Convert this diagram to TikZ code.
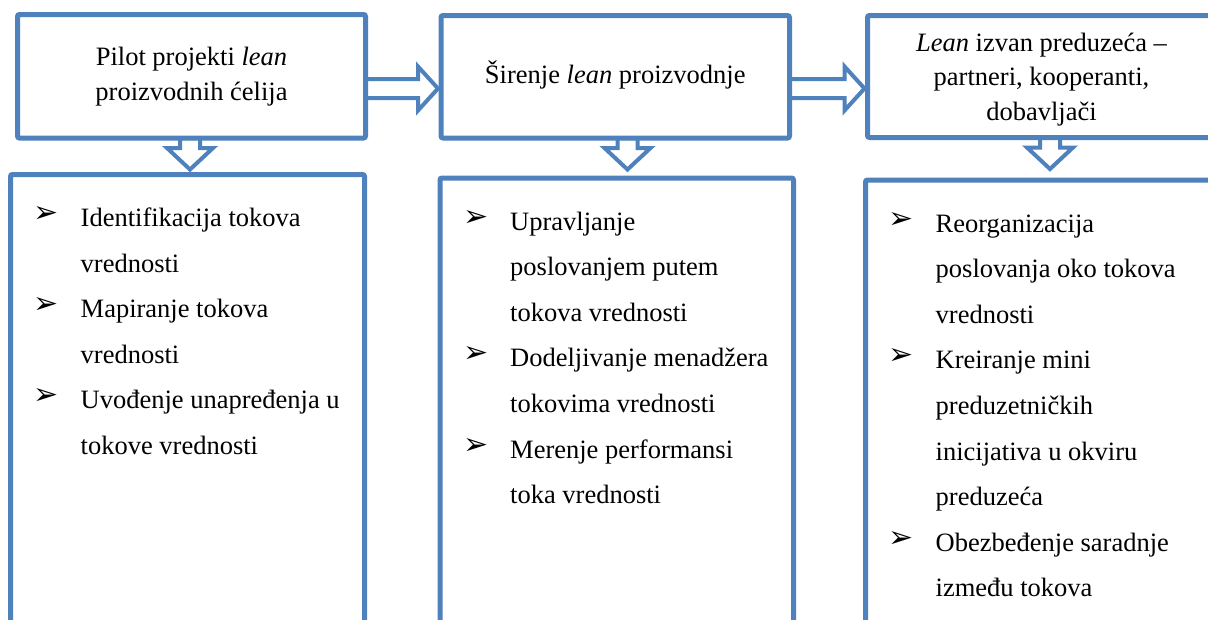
\documentclass[tikz,border=0pt]{standalone}
\usepackage{fontspec}
\setmainfont{Liberation Serif}
\newfontfamily\dingfont{DejaVu Sans}
\usetikzlibrary{calc,backgrounds}
\definecolor{cblue}{HTML}{4F81BD}

% block arrow, left to right: source node, target node, row y
\newcommand{\rblock}[3]{%
  \draw[blockarrow] ($(#1.east |- 0,#3)+(0,-9.5)$) -- ($(#2.west |- 0,#3)+(-23,-9.5)$)
    -- ++(0,-12.5) -- ($(#2.west |- 0,#3)+(-3,0)$) -- ($(#2.west |- 0,#3)+(-23,22)$)
    -- ++(0,-12.5) -- ($(#1.east |- 0,#3)+(0,9.5)$) -- cycle;}
% block arrow, downwards: upper node, column x
\newcommand{\dblock}[2]{%
  \draw[blockarrow] ($(#1.south -| #2,0)+(-10,0)$) -- ++(0,10) -- ++(-13,0)
    -- ($(#1.south -| #2,0)+(0,31.5)$) -- ($(#1.south -| #2,0)+(23,10)$)
    -- ++(-13,0) -- ($(#1.south -| #2,0)+(10,0)$) -- cycle;}

\begin{document}
\begin{tikzpicture}[
    x=1pt, y=-1pt,
    box/.style={draw=cblue, line width=5pt, fill=white, rounded corners=2pt,
                inner sep=0pt, outer sep=0pt},
    headtext/.style={anchor=base, inner sep=0pt, align=center,
                     font=\fontsize{26.5}{35}\selectfont},
    blockarrow/.style={draw=cblue, line width=4pt, fill=white, line join=miter},
    itemtext/.style={anchor=base west, inner sep=0pt, align=left,
                     font=\fontsize{26.5}{45.6}\selectfont},
    bul/.style={anchor=base west, inner sep=0pt, font=\dingfont\fontsize{30}{30}\selectfont},
]
\useasboundingbox (0,0) rectangle (1208,619);
\clip (0,0) rectangle (1208,619);

% Stages
\node[box, minimum width=348pt, minimum height=123.5pt] (top1) at (191.5,76.25) {};
\node[box, minimum width=348.5pt, minimum height=122.5pt] (top2) at (615.25,76.75) {};
\node[box, minimum width=348pt, minimum height=122pt] (top3) at (1041.5,76.5) {};
% (base anchor = last line)
\node[headtext] (h1) at ($(top1.north)+(0,85.5)$) {Pilot projekti \textit{lean}\\proizvodnih ćelija};
\node[headtext] (h2) at ($(top2.north)+(0,67.5)$) {Širenje \textit{lean} proizvodnje};
\node[headtext, font=\fontsize{26.5}{34.5}\selectfont] (h3) at ($(top3.north)+(0,104.5)$)
    {\textit{Lean} izvan preduzeća –\\partneri, kooperanti,\\dobavljači};

% Activity boxes
\node[box, minimum width=354pt, minimum height=460pt] (bot1) at (187.5,404.5) {};
\node[box, minimum width=353.5pt, minimum height=460pt] (bot2) at (616.75,408) {};
\node[box, minimum width=354pt, minimum height=460pt] (bot3) at (1042.5,410) {};

% Arrows
\begin{scope}[on background layer]
\rblock{top1}{top2}{88.5}
\rblock{top2}{top3}{88.5}
\dblock{top1}{190}
\dblock{top2}{627.5}
\dblock{top3}{1050}
\end{scope}

% Items, box 1 (bullet on first line, text anchored on last line)
\node[bul] at ($(bot1.north west)+(23,52)$) {\raisebox{4pt}{➢}};
\node[itemtext] (i11) at ($(bot1.north west)+(70,97.6)$) {Identifikacija tokova\\vrednosti};
\node[bul] at ($(bot1.north west)+(23,143.2)$) {\raisebox{4pt}{➢}};
\node[itemtext] (i12) at ($(bot1.north west)+(70,188.8)$) {Mapiranje tokova\\vrednosti};
\node[bul] at ($(bot1.north west)+(23,234.4)$) {\raisebox{4pt}{➢}};
\node[itemtext] (i13) at ($(bot1.north west)+(70,280)$) {Uvođenje unapređenja u\\tokove vrednosti};

% Items, box 2
\node[bul] at ($(bot2.north west)+(23,52)$) {\raisebox{4pt}{➢}};
\node[itemtext] (i21) at ($(bot2.north west)+(70,143.2)$) {Upravljanje\\poslovanjem putem\\tokova vrednosti};
\node[bul] at ($(bot2.north west)+(23,188.8)$) {\raisebox{4pt}{➢}};
\node[itemtext] (i22) at ($(bot2.north west)+(70,234.4)$) {Dodeljivanje menadžera\\tokovima vrednosti};
\node[bul] at ($(bot2.north west)+(23,280)$) {\raisebox{4pt}{➢}};
\node[itemtext] (i23) at ($(bot2.north west)+(70,325.6)$) {Merenje performansi\\toka vrednosti};

% Items, box 3
\node[bul] at ($(bot3.north west)+(23,52)$) {\raisebox{4pt}{➢}};
\node[itemtext] (i31) at ($(bot3.north west)+(70,143.2)$) {Reorganizacija\\poslovanja oko tokova\\vrednosti};
\node[bul] at ($(bot3.north west)+(23,188.8)$) {\raisebox{4pt}{➢}};
\node[itemtext] (i32) at ($(bot3.north west)+(70,325.6)$) {Kreiranje mini\\preduzetničkih\\inicijativa u okviru\\preduzeća};
\node[bul] at ($(bot3.north west)+(23,371.2)$) {\raisebox{4pt}{➢}};
\node[itemtext] (i33) at ($(bot3.north west)+(70,416.8)$) {Obezbeđenje saradnje\\između tokova};

\end{tikzpicture}
\end{document}
